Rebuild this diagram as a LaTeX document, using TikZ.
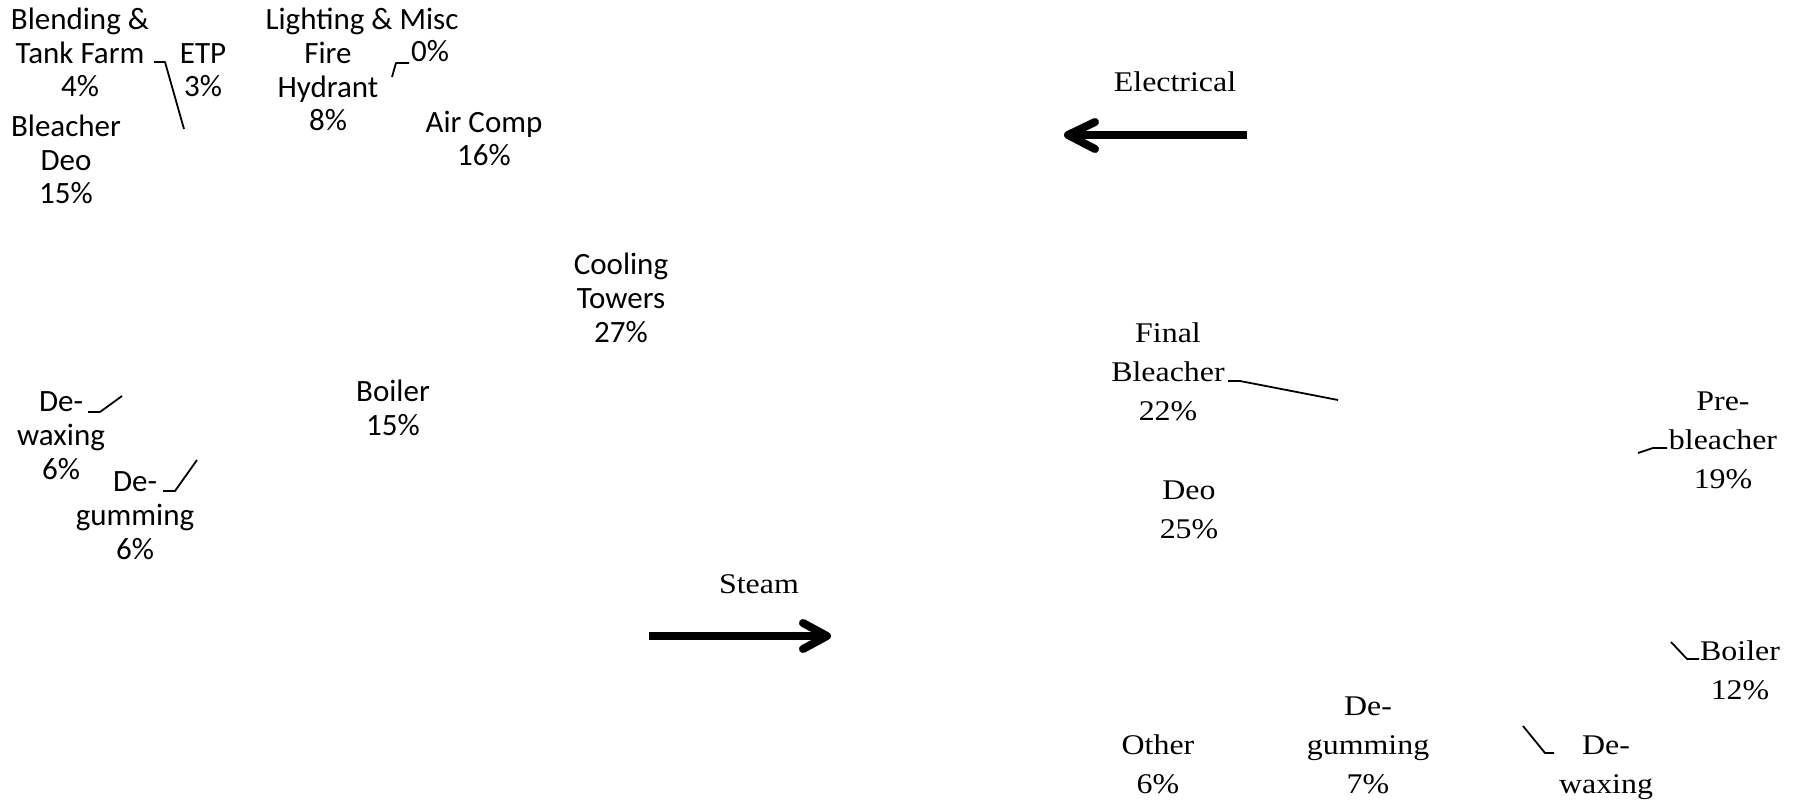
\documentclass[tikz,border=0pt]{standalone}
\usepackage{fontspec}
\newfontfamily\lsans{Carlito}
\newfontfamily\rserif[FakeStretch=1.12]{Liberation Serif}
\tikzset{
  lab/.style={inner sep=0pt, outer sep=0pt, anchor=base, align=center,
    font=\lsans\fontsize{31}{33.7}\selectfont},
  rlab/.style={inner sep=0pt, outer sep=0pt, anchor=base, align=center,
    font=\rserif\fontsize{28.5}{38.7}\selectfont},
  leader/.style={line width=1.8pt, line join=round},
  bigshaft/.style={line width=8pt, line cap=butt},
  bighead/.style={line width=8pt, line cap=round, line join=round}
}
\begin{document}
\begin{tikzpicture}[x=1pt, y=-1pt]
\useasboundingbox[fill=white] (0,0) rectangle (1798,802);

% ---- left chart (Electrical) ---- (positions = baseline of last line)
\node[lab] (blend) at (80,97) {Blending \&\\Tank Farm\\4\%};
\node[lab] (etp) at (203,97) {ETP\\3\%};
\node[lab] (bldeo) at (66,204) {Bleacher\\Deo\\15\%};
\node[lab] (light) at (362,30) {Lighting \& Misc};
\node[lab] (zero) at (430,62) {0\%};
\node[lab] (fire) at (328,131) {Fire\\Hydrant\\8\%};
\node[lab] (air) at (484,166) {Air Comp\\16\%};
\node[lab] (cool) at (621,342) {Cooling\\Towers\\27\%};
\node[lab] (boilL) at (393,435) {Boiler\\15\%};
\node[lab] (waxL) at (61,479) {De-\\waxing\\6\%};
\node[lab] (gumL) at (135,559) {De-\\gumming\\6\%};

\coordinate (l1a) at (154,62); \coordinate (l1b) at (165,62); \coordinate (l1c) at (184,129);
\coordinate (l2a) at (392,77); \coordinate (l2b) at (396,63); \coordinate (l2c) at (409,63);
\coordinate (l3a) at (88,412); \coordinate (l3b) at (100,412); \coordinate (l3c) at (122,396);
\coordinate (l4a) at (163,491); \coordinate (l4b) at (175,491); \coordinate (l4c) at (197,460);
\draw[leader] (l1a) -- (l1b) -- (l1c);
\draw[leader] (l2a) -- (l2b) -- (l2c);
\draw[leader] (l3a) -- (l3b) -- (l3c);
\draw[leader] (l4a) -- (l4b) -- (l4c);

% ---- arrows ----
\node[rlab] (elec) at (1175,92) {Electrical};
\coordinate (eS) at (1247,135); \coordinate (eT) at (1068,135);
\coordinate (eW1) at (1095,122); \coordinate (eW2) at (1095,149);
\draw[bigshaft] (eS) -- (eT);
\draw[bighead] (eW1) -- (eT) -- (eW2);

\node[rlab] (steam) at (759,593) {Steam};
\coordinate (sS) at (649,636); \coordinate (sT) at (827,636);
\coordinate (sW1) at (803,623); \coordinate (sW2) at (803,649);
\draw[bigshaft] (sS) -- (sT);
\draw[bighead] (sW1) -- (sT) -- (sW2);

% ---- right chart (Steam) ----
\node[rlab] (final) at (1168,420) {Final\\Bleacher\\22\%};
\node[rlab] (deoR) at (1189,538) {Deo\\25\%};
\node[rlab] (pre) at (1723,488) {Pre-\\bleacher\\19\%};
\node[rlab] (boilR) at (1740,699) {Boiler\\12\%};
\node[rlab] (other) at (1158,793) {Other\\6\%};
\node[rlab] (gumR) at (1368,793) {De-\\gumming\\7\%};
\node[rlab] (waxR) at (1606,793) {De-\\waxing};

\coordinate (r1a) at (1228,381); \coordinate (r1b) at (1240,381); \coordinate (r1c) at (1338,400);
\coordinate (r2a) at (1638,453); \coordinate (r2b) at (1653,448); \coordinate (r2c) at (1667,448);
\coordinate (r3a) at (1523,726); \coordinate (r3b) at (1545,753); \coordinate (r3c) at (1554,753);
\coordinate (r4a) at (1671,642); \coordinate (r4b) at (1687,659); \coordinate (r4c) at (1699,659);
\draw[leader] (r1a) -- (r1b) -- (r1c);
\draw[leader] (r2a) -- (r2b) -- (r2c);
\draw[leader] (r3a) -- (r3b) -- (r3c);
\draw[leader] (r4a) -- (r4b) -- (r4c);
\end{tikzpicture}
\end{document}
